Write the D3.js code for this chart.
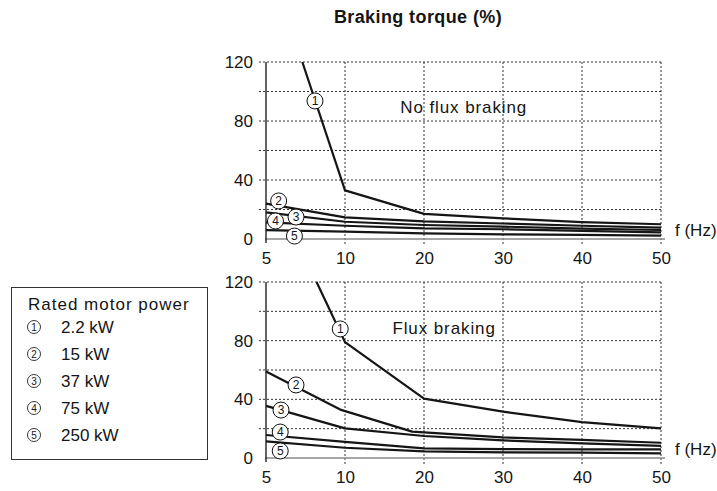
<!DOCTYPE html>
<html>
<head>
<meta charset="utf-8">
<script src="https://cdn.jsdelivr.net/npm/d3@7"></script>
<style>
    body { margin: 0; background: #fff; }
    svg text { font-family: "Liberation Sans", Arial, Helvetica, sans-serif; fill: #151515; }
</style>
</head>
<body>
<svg id="chart" width="717" height="491"></svg>
<script>

var freqTicks = [5, 10, 20, 30, 40, 50];
var torqueLabels = [0, 40, 80, 120];
var torqueGrid = [20, 40, 60, 80, 100, 120];
var motorPower = ["2.2 kW", "15 kW", "37 kW", "75 kW", "250 kW"];

// curves, [f (Hz), torque (%)]
var noFlux1 = [[7.3, 120], [10, 33], [20, 17], [30, 14], [40, 11.5], [50, 10]];
var noFlux2 = [[5, 24], [10, 14.7], [20, 12], [30, 10.5], [40, 9], [50, 7.7]];
var noFlux3 = [[5, 18], [10, 11.7], [20, 9.5], [30, 8.4], [40, 7], [50, 6.1]];
var noFlux4 = [[5, 11.3], [10, 9], [20, 7.2], [30, 6.6], [40, 5.5], [50, 4.5]];
var noFlux5 = [[5, 6], [10, 5], [20, 3.8], [30, 3.2], [40, 2.8], [50, 2.3]];

var flux1 = [[8.2, 120], [10, 79], [20, 40.5], [30, 31.6], [40, 24.5], [50, 20.2]];
var flux2 = [[5, 59], [9.7, 33], [18.5, 18], [30, 14], [40, 12.3], [50, 10.4]];
var flux3 = [[5, 35.5], [10, 20.2], [20, 15], [30, 12], [40, 10], [50, 8.2]];
var flux4 = [[5, 15.7], [10, 11], [20, 6.5], [30, 6], [40, 5.9], [50, 5.9]];
var flux5 = [[5, 11.3], [10, 7], [20, 4.5], [30, 3.8], [40, 3.6], [50, 3.2]];

// numbered circles sitting on the curves
var noFluxMarkers = [[8.1, 93.6], [5.8, 25.8], [6.9, 14.9], [5.6, 12.2], [6.8, 2]];
var fluxMarkers = [[9.7, 88], [6.9, 49.8], [5.95, 32.7], [5.9, 17.7], [5.9, 4.8]];

var svg = d3.select("#chart");

// 5-10 gets the same width as every 10 Hz step
var xScale = d3.scaleLinear()
    .domain(freqTicks)
    .range(freqTicks.map(function (d, i) { return 266 + i * 79; }));

function drawPanel(top, bottom, curves, markers, label, labelAt) {

    var yScale = d3.scaleLinear()
        .domain([0, 120])
        .range([bottom, top]);

    var g = svg.append("g");

    // dotted grid
    g.selectAll(".hgrid")
        .data(torqueGrid)
        .enter()
        .append("line")
        .attr("x1", 259)
        .attr("x2", xScale(50))
        .attr("y1", function (d) { return yScale(d); })
        .attr("y2", function (d) { return yScale(d); })
        .attr("stroke", "#333")
        .attr("stroke-width", 1)
        .attr("stroke-dasharray", "2,2");

    g.selectAll(".vgrid")
        .data(freqTicks.slice(1))
        .enter()
        .append("line")
        .attr("x1", function (d) { return xScale(d); })
        .attr("x2", function (d) { return xScale(d); })
        .attr("y1", yScale(120))
        .attr("y2", yScale(0) + 7)
        .attr("stroke", "#333")
        .attr("stroke-width", 1)
        .attr("stroke-dasharray", "2,2");

    // axes lines
    g.append("line")
        .attr("x1", xScale(5) - 1)
        .attr("x2", xScale(50) + 4)
        .attr("y1", yScale(0))
        .attr("y2", yScale(0))
        .attr("stroke", "#888")
        .attr("stroke-width", 1.6);

    g.append("line")
        .attr("x1", xScale(5))
        .attr("x2", xScale(5))
        .attr("y1", yScale(120))
        .attr("y2", yScale(0) + 4)
        .attr("stroke", "#111")
        .attr("stroke-width", 1.3);

    var yAxis = d3.axisLeft(yScale)
        .tickValues(torqueLabels)
        .tickSize(0)
        .tickPadding(13);

    var yg = g.append("g")
        .attr("transform", "translate(" + xScale(5) + ",0)")
        .call(yAxis);
    yg.select(".domain").remove();
    yg.selectAll("text")
        .attr("font-size", 17)
        .attr("fill", "#151515");

    var xAxis = d3.axisBottom(xScale)
        .tickValues(freqTicks)
        .tickSize(0)
        .tickPadding(13);

    var xg = g.append("g")
        .attr("transform", "translate(0," + yScale(0) + ")")
        .call(xAxis);
    xg.select(".domain").remove();
    xg.selectAll("text")
        .attr("font-size", 17)
        .attr("fill", "#151515");

    g.append("text")
        .attr("x", xScale(50) + 14)
        .attr("y", yScale(6))
        .attr("dy", "0.35em")
        .attr("font-size", 17)
        .text("f (Hz)");

    // curves
    var line = d3.line()
        .x(function (d) { return xScale(d[0]); })
        .y(function (d) { return yScale(d[1]); });

    g.selectAll(".curve")
        .data(curves)
        .enter()
        .append("path")
        .attr("class", "curve")
        .attr("d", line)
        .attr("fill", "none")
        .attr("stroke", "#151515")
        .attr("stroke-width", 2.2)
        .attr("stroke-linejoin", "round");

    var marks = g.selectAll(".marker")
        .data(markers)
        .enter()
        .append("g")
        .attr("transform", function (d) {
            return "translate(" + xScale(d[0]) + "," + yScale(d[1]) + ")";
        });

    marks.append("circle")
        .attr("r", 8)
        .attr("fill", "#fff")
        .attr("stroke", "#111")
        .attr("stroke-width", 1);

    marks.append("text")
        .attr("text-anchor", "middle")
        .attr("dy", "0.36em")
        .attr("font-size", 12)
        .text(function (d, i) { return i + 1; });

    g.append("text")
        .attr("x", xScale(labelAt[0]))
        .attr("y", yScale(labelAt[1]))
        .attr("dy", "0.35em")
        .attr("font-size", 17)
        .attr("letter-spacing", 0.9)
        .text(label);
}

svg.append("text")
    .attr("x", 418)
    .attr("y", 17)
    .attr("dy", "0.35em")
    .attr("text-anchor", "middle")
    .attr("font-size", 18)
    .attr("font-weight", "bold")
    .attr("letter-spacing", 0.4)
    .attr("fill", "#222")
    .text("Braking torque (%)");

drawPanel(62, 239, [noFlux1, noFlux2, noFlux3, noFlux4, noFlux5], noFluxMarkers, "No flux braking", [17, 89.5]);
drawPanel(282, 458, [flux1, flux2, flux3, flux4, flux5], fluxMarkers, "Flux braking", [16, 88.6]);

// legend box
var legend = svg.append("g");

legend.append("rect")
    .attr("x", 11.5)
    .attr("y", 287.5)
    .attr("width", 196)
    .attr("height", 172)
    .attr("fill", "#fff")
    .attr("stroke", "#333")
    .attr("stroke-width", 1);

legend.append("text")
    .attr("x", 28)
    .attr("y", 304)
    .attr("dy", "0.35em")
    .attr("font-size", 17)
    .attr("letter-spacing", 1)
    .text("Rated motor power");

var items = legend.selectAll(".item")
    .data(motorPower)
    .enter()
    .append("g")
    .attr("transform", function (d, i) { return "translate(0," + (327 + i * 27) + ")"; });

items.append("circle")
    .attr("cx", 34)
    .attr("r", 6.5)
    .attr("fill", "#fff")
    .attr("stroke", "#222")
    .attr("stroke-width", 0.9);

items.append("text")
    .attr("x", 34)
    .attr("dy", "0.36em")
    .attr("text-anchor", "middle")
    .attr("font-size", 10)
    .text(function (d, i) { return i + 1; });

items.append("text")
    .attr("x", 61)
    .attr("dy", "0.35em")
    .attr("font-size", 17)
    .text(function (d) { return d; });

</script>
</body>
</html>
